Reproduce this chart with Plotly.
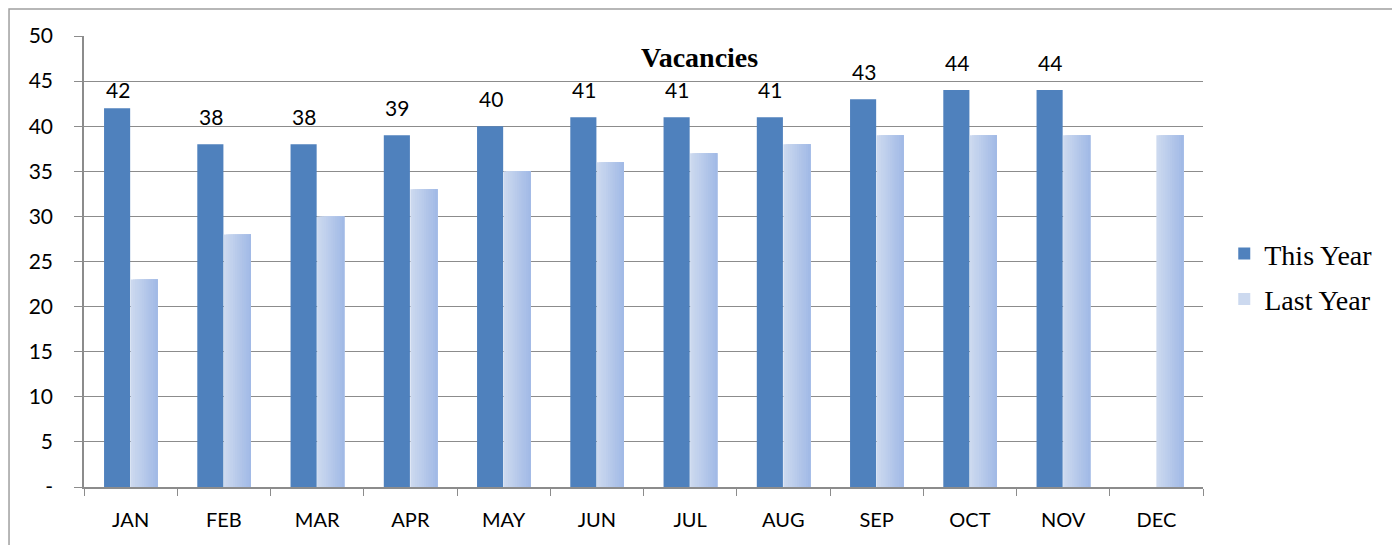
import plotly.graph_objects as go

months = ["JAN", "FEB", "MAR", "APR", "MAY", "JUN", "JUL", "AUG", "SEP", "OCT", "NOV", "DEC"]
this_year = [42, 38, 38, 39, 40, 41, 41, 41, 43, 44, 44, None]
last_year = [23, 28, 30, 33, 35, 36, 37, 38, 39, 39, 39, 39]
y_ticks = [0, 5, 10, 15, 20, 25, 30, 35, 40, 45, 50]
y_tick_text = ["-"] + [str(v) for v in y_ticks[1:]]

label_font = "Lato, 'Open Sans', sans-serif"
serif = "'Liberation Serif', 'DejaVu Serif', serif"

fig = go.Figure()

# this year - solid blue
fig.add_trace(go.Bar(
    x=months, y=this_year, name="This Year",
    marker=dict(color="#4f81bd", line=dict(width=0)),
    width=0.28, offset=-0.285,
))

# value labels above this year's bars (JAN sits a bit lower, like the original)
for i, (m, v) in enumerate(zip(months, this_year)):
    if v is None:
        continue
    fig.add_annotation(
        x=m, y=v, text=str(v), showarrow=False,
        xshift=-13, yanchor="bottom", yshift=4 if i == 0 else 13,
        font=dict(family=label_font, size=21, color="#000"),
    )

# last year - fake a left-to-right gradient, each slice runs to the right edge
steps = 12
c0 = (0xcc, 0xd9, 0xef)
c1 = (0xa2, 0xba, 0xe6)
full = 0.29
w = full / steps
for i in range(steps):
    t = i / (steps - 1)
    col = "rgb(%d,%d,%d)" % tuple(round(a + (b - a) * t) for a, b in zip(c0, c1))
    fig.add_trace(go.Bar(
        x=months, y=last_year, name="Last Year",
        marker=dict(color=col, line=dict(width=0)),
        width=full - i * w, offset=i * w,
        showlegend=(i == 0), legendgroup="last",
    ))

fig.add_annotation(
    text="<b>Vacancies</b>", x=0.55, y=47.6, xref="paper", yref="y",
    showarrow=False, font=dict(family=serif, size=28, color="#000"),
)

# outer chart border
fig.add_shape(
    type="rect", xref="paper", yref="paper",
    x0=-0.067, x1=1.1725, y0=-0.2, y1=1.0599,
    line=dict(color="#a0a0a0", width=1.5), fillcolor="rgba(0,0,0,0)", layer="below",
)

fig.update_layout(
    width=1392, height=537,
    margin=dict(l=76, r=197, t=28, b=58),
    barmode="overlay",
    plot_bgcolor="white", paper_bgcolor="white",
    showlegend=True,
    legend=dict(
        x=1.019, y=0.467, xanchor="left", yanchor="middle",
        font=dict(family=serif, size=28, color="#000"),
        tracegroupgap=6, itemwidth=30,
    ),
    xaxis=dict(
        type="category", range=[-0.5, 11.5],
        showline=True, linecolor="#8c8c8c", linewidth=1.5,
        ticks="outside", ticklen=7, tickcolor="#8c8c8c", tickson="boundaries",
        tickfont=dict(family=label_font, size=20, color="#000"),
        ticklabelstandoff=14, showgrid=False,
    ),
    yaxis=dict(
        range=[0, 50], tickvals=y_ticks, ticktext=y_tick_text,
        showline=True, linecolor="#8c8c8c", linewidth=1.5,
        ticks="outside", ticklen=8, tickcolor="#8c8c8c",
        gridcolor="#8c8c8c", gridwidth=1, zeroline=False,
        tickfont=dict(family=label_font, size=21, color="#000"),
        ticklabelstandoff=17,
    ),
)

fig.write_html("out.html")
